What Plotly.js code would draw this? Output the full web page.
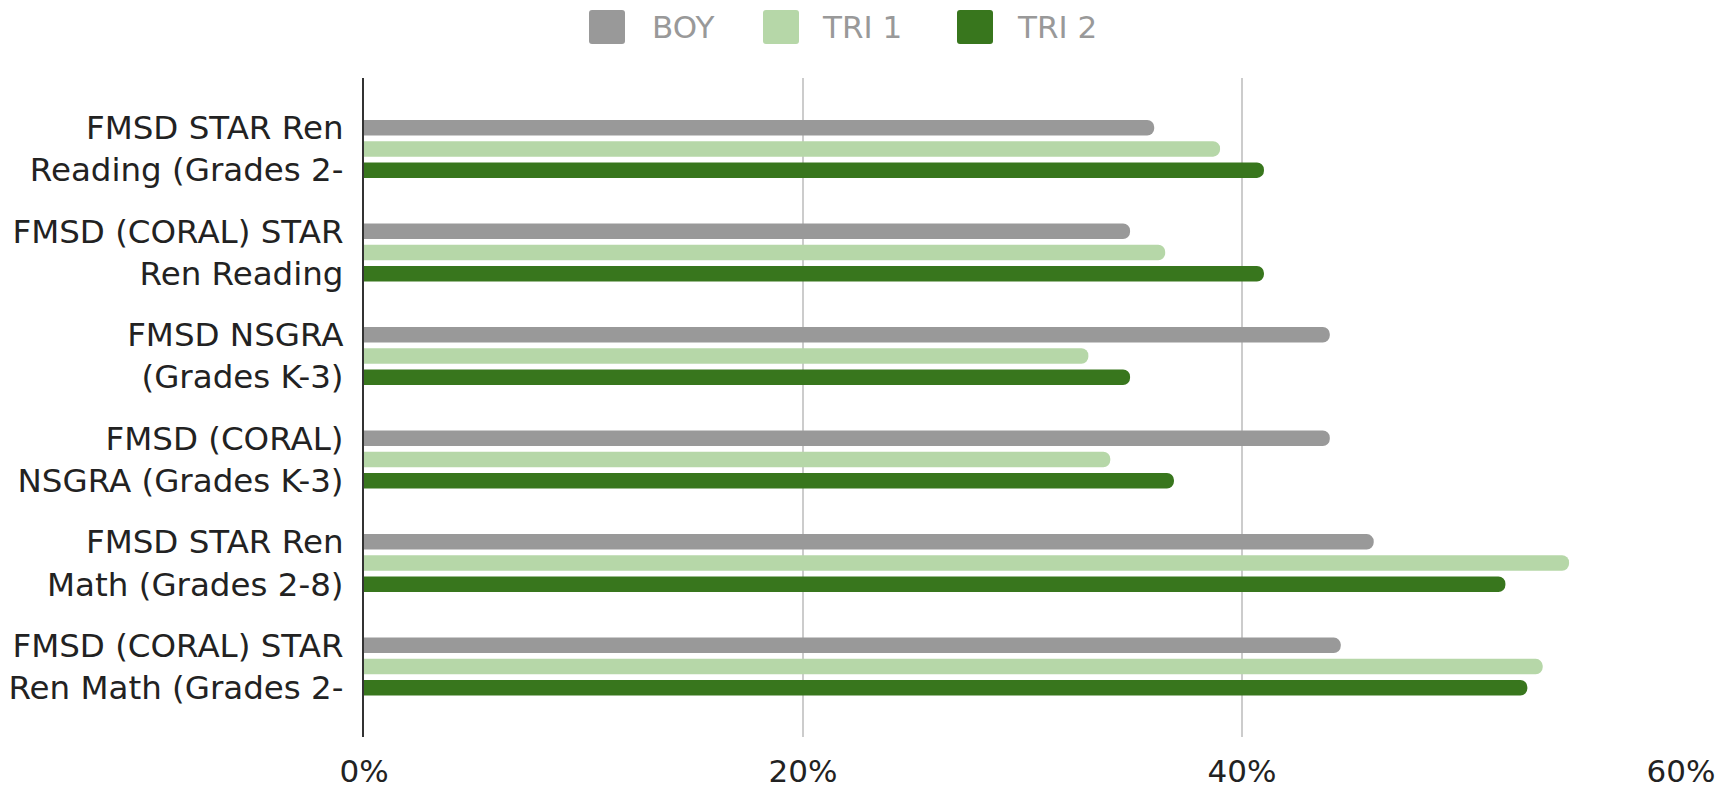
<!DOCTYPE html>
<html>
<head>
<meta charset="utf-8">
<script src="https://cdn.plot.ly/plotly-3.0.1.min.js"></script>
<style>html,body{margin:0;padding:0;background:#fff;}#chart{width:1735px;height:789px;}</style>
</head>
<body>
<div id="chart"></div>
<script>
// ---- data ----
const categories = [
  "FMSD STAR Ren<br>Reading (Grades 2-",
  "FMSD (CORAL) STAR<br>Ren Reading",
  "FMSD NSGRA<br>(Grades K-3)",
  "FMSD (CORAL)<br>NSGRA (Grades K-3)",
  "FMSD STAR Ren<br>Math (Grades 2-8)",
  "FMSD (CORAL) STAR<br>Ren Math (Grades 2-"
];
const seriesNames = ["BOY", "TRI 1", "TRI 2"];
const boy  = [36.0, 34.9, 44.0, 44.0, 46.0, 44.5];
const tri1 = [39.0, 36.5, 33.0, 34.0, 54.9, 53.7];
const tri2 = [41.0, 41.0, 34.9, 36.9, 52.0, 53.0];
const xTickVals = [0, 20, 40, 60];
const xTickText = ["0%", "20%", "40%", "60%"];

const colors = ["#999999", "#b6d7a8", "#38761d"];
const seriesValues = [boy, tri1, tri2];

const W = 1735, H = 789;
const L = 364, R = 1681, T = 78, B = 737;
const font = "Verdana, 'DejaVu Sans', sans-serif";

const traces = seriesValues.map((vals, i) => ({
  type: "bar",
  orientation: "h",
  name: seriesNames[i],
  x: vals,
  y: categories,
  marker: {color: colors[i], cornerradius: 7},
  hoverinfo: "x+name",
  showlegend: false
}));

// legend drawn in paper coords
function px2x(p){ return (p - L) / (R - L); }
function py2y(p){ return (B - p) / (B - T); }
function roundRect(x0, y0, x1, y1, r){
  const X = v => px2x(v), Y = v => py2y(v);
  return `M ${X(x0+r)} ${Y(y0)} L ${X(x1-r)} ${Y(y0)} Q ${X(x1)} ${Y(y0)} ${X(x1)} ${Y(y0+r)} ` +
         `L ${X(x1)} ${Y(y1-r)} Q ${X(x1)} ${Y(y1)} ${X(x1-r)} ${Y(y1)} ` +
         `L ${X(x0+r)} ${Y(y1)} Q ${X(x0)} ${Y(y1)} ${X(x0)} ${Y(y1-r)} ` +
         `L ${X(x0)} ${Y(y0+r)} Q ${X(x0)} ${Y(y0)} ${X(x0+r)} ${Y(y0)} Z`;
}
const legendSwatchX = [589, 763, 957];
const legendTextX = [650, 820, 1015];
const shapes = [], annotations = [];
seriesNames.forEach((n, i) => {
  shapes.push({type: "path", xref: "paper", yref: "paper",
    path: roundRect(legendSwatchX[i], 10, legendSwatchX[i] + 36, 44, 3),
    fillcolor: colors[i], line: {width: 0}});
  annotations.push({xref: "paper", yref: "paper", x: px2x(legendTextX[i]), y: py2y(27.5),
    xanchor: "left", yanchor: "middle", showarrow: false, text: n,
    font: {family: font, size: 31, color: "#999999"}});
});

const layout = {
  width: W, height: H,
  margin: {l: L, r: W - R, t: T, b: H - B, pad: 0},
  paper_bgcolor: "#ffffff", plot_bgcolor: "#ffffff",
  barmode: "group",
  bargap: 0.385,
  bargroupgap: 0.27,
  showlegend: false,
  font: {family: font, color: "#222222"},
  xaxis: {
    range: [0, 60], tickmode: "array", tickvals: xTickVals, ticktext: xTickText,
    showgrid: true, gridcolor: "#cccccc", gridwidth: 2,
    zeroline: false, showline: false, ticks: "",
    ticklabelstandoff: 13,
    tickfont: {family: font, size: 31, color: "#222222"}
  },
  yaxis: {
    type: "category",
    range: [5.68, -0.685],
    showgrid: false, zeroline: false,
    showline: true, linecolor: "#333333", linewidth: 2,
    ticks: "", ticklabelstandoff: 12,
    tickfont: {family: font, size: 32.5, color: "#222222"}
  },
  shapes: shapes,
  annotations: annotations
};

Plotly.newPlot("chart", traces, layout, {displayModeBar: false, staticPlot: true});
</script>
</body>
</html>
